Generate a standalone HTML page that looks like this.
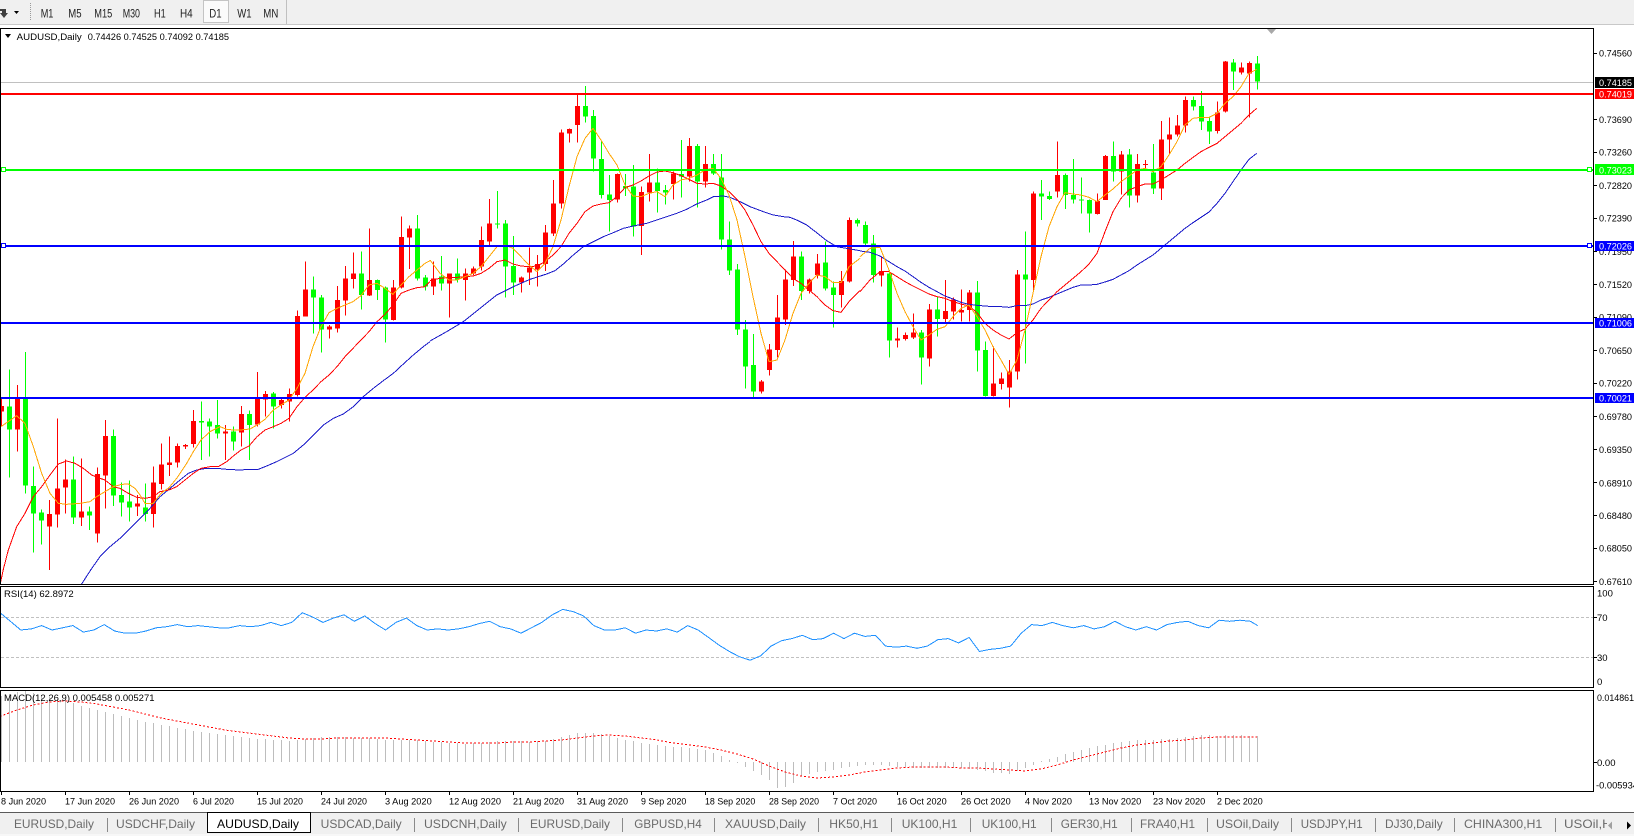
<!DOCTYPE html>
<html><head><meta charset="utf-8">
<style>
html,body{margin:0;padding:0;background:#fff;overflow:hidden;}
svg{display:block;font-family:"Liberation Sans",Arial,sans-serif;}
</style></head><body>
<svg width="1634" height="836" viewBox="0 0 1634 836" xmlns="http://www.w3.org/2000/svg">
<defs>
<clipPath id="mainclip"><rect x="1" y="29" width="1592" height="555"/></clipPath>
<clipPath id="rsiclip"><rect x="1" y="587" width="1592" height="100"/></clipPath>
<clipPath id="macdclip"><rect x="1" y="691" width="1592" height="100"/></clipPath>
</defs>
<rect width="1634" height="836" fill="#fff"/>

<!-- toolbar -->
<g shape-rendering="crispEdges">
<rect x="0" y="0" width="1634" height="24" fill="#f0f0f0"/>
<rect x="0" y="24" width="1634" height="1" fill="#c8c8c8"/>
<rect x="203.5" y="0.5" width="25" height="22" fill="#fbfbfb" stroke="#c4c4c4"/>
<rect x="286" y="0" width="1" height="24" fill="#c0c0c0"/>
<line x1="30.5" y1="3" x2="30.5" y2="21" stroke="#9a9a9a" stroke-dasharray="1 1"/>
</g>
<polygon points="0,9 6,9 6,13 8,13 4,18 0,13 2,13 2,11 0,11" fill="#404040"/>
<polygon points="14,11 19,11 16.5,14" fill="#000"/>
<g font-size="12" fill="#222">
<text x="40.7" y="17.3" textLength="12.7" lengthAdjust="spacingAndGlyphs">M1</text>
<text x="68.3" y="17.3" textLength="13.3" lengthAdjust="spacingAndGlyphs">M5</text>
<text x="94.3" y="17.3" textLength="18" lengthAdjust="spacingAndGlyphs">M15</text>
<text x="122.7" y="17.3" textLength="17.3" lengthAdjust="spacingAndGlyphs">M30</text>
<text x="154" y="17.3" textLength="11.7" lengthAdjust="spacingAndGlyphs">H1</text>
<text x="180" y="17.3" textLength="12.7" lengthAdjust="spacingAndGlyphs">H4</text>
<text x="209.3" y="17.3" textLength="12.3" lengthAdjust="spacingAndGlyphs">D1</text>
<text x="237.3" y="17.3" textLength="14.3" lengthAdjust="spacingAndGlyphs">W1</text>
<text x="263.3" y="17.3" textLength="15" lengthAdjust="spacingAndGlyphs">MN</text>
</g>

<!-- panel borders -->
<g fill="none" stroke="#000" stroke-width="1" shape-rendering="crispEdges">
<rect x="0.5" y="28.5" width="1593" height="556"/>
<rect x="0.5" y="586.5" width="1593" height="101"/>
<rect x="0.5" y="690.5" width="1593" height="101"/>
</g>

<!-- main chart content -->
<g clip-path="url(#mainclip)">
<rect x="1" y="82" width="1592" height="1" fill="#c0c0c0" shape-rendering="crispEdges"/>
<g shape-rendering="crispEdges">
<g transform="translate(0,60) scale(1,0.3333333)">
<path fill="#ff0000" d="M1 1015h1V1100h-1zM-1 1038h5V1055h-5zM17 975h1V1175h-1zM15 1017h5V1108h-5zM49 1320h1V1530h-1zM47 1362h5V1400h-5zM57 1075h1V1402h-1zM55 1285h5V1363h-5zM65 1198h1V1360h-1zM63 1258h5V1283h-5zM81 1195h1V1398h-1zM79 1355h5V1372h-5zM97 1222h1V1447h-1zM95 1242h5V1420h-5zM105 1080h1V1345h-1zM103 1128h5V1247h-5zM137 1305h1V1368h-1zM135 1330h5V1340h-5zM153 1220h1V1402h-1zM151 1267h5V1362h-5zM161 1150h1V1288h-1zM159 1213h5V1272h-5zM169 1130h1V1248h-1zM167 1207h5V1215h-5zM177 1150h1V1222h-1zM175 1158h5V1208h-5zM185 1152h1V1167h-1zM183 1155h5V1160h-5zM193 1050h1V1162h-1zM191 1083h5V1152h-5zM225 1095h1V1200h-1zM223 1115h5V1120h-5zM241 1038h1V1160h-1zM239 1062h5V1118h-5zM257 936h1V1100h-1zM255 1015h5V1093h-5zM265 993h1V1070h-1zM263 1002h5V1018h-5zM281 1015h1V1045h-1zM279 1020h5V1035h-5zM289 985h1V1085h-1zM287 1002h5V1025h-5zM297 752h1V1010h-1zM295 768h5V1005h-5zM305 605h1V770h-1zM303 688h5V770h-5zM329 795h1V835h-1zM327 800h5V808h-5zM337 678h1V818h-1zM335 720h5V805h-5zM345 618h1V767h-1zM343 655h5V722h-5zM353 578h1V685h-1zM351 640h5V657h-5zM369 505h1V708h-1zM367 660h5V707h-5zM393 660h1V782h-1zM391 682h5V780h-5zM401 470h1V685h-1zM399 531h5V683h-5zM409 497h1V627h-1zM407 505h5V533h-5zM433 605h1V705h-1zM431 655h5V680h-5zM449 640h1V773h-1zM447 640h5V670h-5zM465 625h1V722h-1zM463 640h5V660h-5zM473 620h1V645h-1zM471 625h5V640h-5zM481 500h1V632h-1zM479 540h5V620h-5zM489 417h1V555h-1zM487 490h5V545h-5zM521 650h1V698h-1zM519 653h5V668h-5zM529 562h1V675h-1zM527 623h5V638h-5zM537 585h1V680h-1zM535 612h5V628h-5zM545 495h1V633h-1zM543 517h5V612h-5zM553 360h1V528h-1zM551 430h5V520h-5zM561 208h1V445h-1zM559 218h5V430h-5zM569 205h1V248h-1zM567 207h5V220h-5zM577 103h1V248h-1zM575 138h5V195h-5zM617 340h1V428h-1zM615 342h5V418h-5zM641 380h1V585h-1zM639 396h5V498h-5zM649 282h1V425h-1zM647 368h5V398h-5zM673 335h1V418h-1zM671 341h5V372h-5zM689 234h1V365h-1zM687 258h5V350h-5zM705 258h1V383h-1zM703 312h5V365h-5zM761 960h1V1000h-1zM759 965h5V995h-5zM769 852h1V947h-1zM767 868h5V930h-5zM777 705h1V893h-1zM775 773h5V870h-5zM785 628h1V795h-1zM783 658h5V778h-5zM793 543h1V678h-1zM791 590h5V660h-5zM809 655h1V700h-1zM807 658h5V693h-5zM817 582h1V655h-1zM815 610h5V645h-5zM841 633h1V742h-1zM839 663h5V705h-5zM849 472h1V668h-1zM847 480h5V665h-5z"/>
<path fill="#00ff00" d="M9 928h1V1252h-1zM7 1040h5V1108h-5zM25 876h1V1300h-1zM23 1017h5V1277h-5zM33 1220h1V1477h-1zM31 1278h5V1360h-5zM41 1348h1V1453h-1zM39 1358h5V1382h-5zM73 1190h1V1392h-1zM71 1258h5V1372h-5zM89 1340h1V1410h-1zM87 1355h5V1367h-5zM113 1108h1V1338h-1zM111 1128h5V1307h-5zM121 1268h1V1370h-1zM119 1305h5V1328h-5zM129 1262h1V1385h-1zM127 1325h5V1342h-5zM145 1270h1V1385h-1zM143 1342h5V1362h-5zM201 1025h1V1200h-1zM199 1083h5V1088h-5zM209 1075h1V1190h-1zM207 1085h5V1100h-5zM217 1020h1V1135h-1zM215 1095h5V1120h-5zM233 1100h1V1172h-1zM231 1115h5V1145h-5zM249 1052h1V1200h-1zM247 1062h5V1095h-5zM273 996h1V1105h-1zM271 1000h5V1040h-5zM313 650h1V820h-1zM311 688h5V713h-5zM321 705h1V878h-1zM319 712h5V808h-5zM361 575h1V748h-1zM359 640h5V705h-5zM377 658h1V720h-1zM375 660h5V690h-5zM385 680h1V848h-1zM383 682h5V778h-5zM417 465h1V662h-1zM415 505h5V655h-5zM425 645h1V692h-1zM423 652h5V680h-5zM441 588h1V692h-1zM439 650h5V670h-5zM457 595h1V668h-1zM455 640h5V658h-5zM497 393h1V505h-1zM495 490h5V493h-5zM505 480h1V713h-1zM503 490h5V620h-5zM513 528h1V705h-1zM511 618h5V668h-5zM585 78h1V188h-1zM583 138h5V170h-5zM593 150h1V335h-1zM591 168h5V296h-5zM601 245h1V415h-1zM599 297h5V405h-5zM609 345h1V515h-1zM607 403h5V420h-5zM625 342h1V408h-1zM623 378h5V385h-5zM633 315h1V530h-1zM631 380h5V500h-5zM657 325h1V458h-1zM655 368h5V393h-5zM665 375h1V433h-1zM663 390h5V398h-5zM681 240h1V412h-1zM679 342h5V350h-5zM697 252h1V443h-1zM695 258h5V365h-5zM713 282h1V345h-1zM711 312h5V340h-5zM721 282h1V568h-1zM719 352h5V538h-5zM729 484h1V645h-1zM727 538h5V632h-5zM737 612h1V825h-1zM735 628h5V808h-5zM745 780h1V985h-1zM743 808h5V920h-5zM753 822h1V1012h-1zM751 915h5V995h-5zM801 575h1V720h-1zM799 590h5V693h-5zM825 545h1V692h-1zM823 608h5V685h-5zM833 665h1V802h-1zM831 682h5V705h-5zM857 475h1V500h-1zM855 480h5V490h-5z"/>
</g>
<g transform="translate(0,40) scale(1,0.3333333)">
<path fill="#ff0000" d="M881 650h1V740h-1zM879 693h5V707h-5zM897 862h1V922h-1zM895 895h5V902h-5zM905 878h1V902h-1zM903 885h5V897h-5zM913 820h1V897h-1zM911 877h5V893h-5zM929 792h1V980h-1zM927 808h5V955h-5zM945 720h1V848h-1zM943 813h5V837h-5zM953 773h1V838h-1zM951 778h5V815h-5zM961 748h1V845h-1zM959 810h5V818h-5zM969 750h1V845h-1zM967 757h5V810h-5zM993 920h1V1070h-1zM991 1030h5V1068h-5zM1001 998h1V1048h-1zM999 1015h5V1032h-5zM1009 960h1V1103h-1zM1007 995h5V1043h-5zM1017 690h1V1018h-1zM1015 703h5V995h-5zM1033 455h1V752h-1zM1031 460h5V720h-5zM1057 305h1V473h-1zM1055 405h5V455h-5zM1097 460h1V524h-1zM1095 483h5V522h-5zM1105 345h1V480h-1zM1103 348h5V480h-5zM1121 333h1V463h-1zM1119 343h5V395h-5zM1137 342h1V488h-1zM1135 372h5V467h-5zM1145 360h1V385h-1zM1143 372h5V375h-5zM1161 243h1V480h-1zM1159 298h5V446h-5zM1169 233h1V340h-1zM1167 283h5V298h-5zM1177 225h1V290h-1zM1175 256h5V283h-5zM1185 170h1V278h-1zM1183 180h5V256h-5zM1217 185h1V281h-1zM1215 217h5V273h-5zM1225 63h1V218h-1zM1223 65h5V215h-5zM1241 68h1V103h-1zM1239 82h5V98h-5zM1249 65h1V233h-1zM1247 69h5V100h-5z"/>
<path fill="#00ff00" d="M865 545h1V615h-1zM863 555h5V610h-5zM873 585h1V728h-1zM871 610h5V705h-5zM889 690h1V952h-1zM887 700h5V902h-5zM921 870h1V1033h-1zM919 877h5V953h-5zM937 770h1V890h-1zM935 808h5V837h-5zM977 723h1V995h-1zM975 757h5V932h-5zM985 905h1V1070h-1zM983 930h5V1068h-5zM1025 575h1V970h-1zM1023 703h5V718h-5zM1041 420h1V540h-1zM1039 460h5V470h-5zM1049 455h1V480h-1zM1047 468h5V477h-5zM1065 400h1V507h-1zM1063 405h5V465h-5zM1073 357h1V490h-1zM1071 465h5V478h-5zM1081 412h1V520h-1zM1079 478h5V482h-5zM1089 478h1V578h-1zM1087 480h5V520h-5zM1113 305h1V425h-1zM1111 348h5V395h-5zM1129 327h1V503h-1zM1127 343h5V467h-5zM1153 312h1V462h-1zM1151 397h5V445h-5zM1193 170h1V212h-1zM1191 180h5V200h-5zM1201 153h1V270h-1zM1199 198h5V245h-5zM1209 233h1V312h-1zM1207 243h5V275h-5zM1233 57h1V150h-1zM1231 67h5V95h-5zM1257 48h1V148h-1zM1255 70h5V125h-5z"/>
</g>
</g>

<!-- moving averages -->
<g fill="none" stroke-width="1" shape-rendering="crispEdges">
<g transform="translate(0,60) scale(0.3333333)">
<polyline vector-effect="non-scaling-stroke" stroke="#1818c8" points="243,1575 272,1530 300,1490 330,1460 360,1435 390,1405 420,1375 450,1345 480,1310 510,1285 540,1260 565,1240 590,1230 620,1225 650,1225 680,1228 720,1230 750,1228 775,1228 800,1218 830,1205 860,1190 880,1180 910,1155 940,1125 970,1095 1000,1075 1030,1062 1060,1040 1090,1010 1120,985 1150,962 1180,940 1210,912 1240,885 1270,860 1290,845"/>
<polyline vector-effect="non-scaling-stroke" stroke="#ff0000" points="0,1575 10,1528 25,1470 50,1400 75,1360 100,1310 125,1280 150,1245 175,1212 200,1203 225,1210 250,1225 275,1245 300,1255 315,1260 340,1280 360,1285 385,1300 410,1312 435,1315 460,1310 480,1295 507,1290 530,1280 555,1260 580,1240 603,1225 630,1220 655,1220 680,1205 700,1188 723,1170 747,1158 771,1130 795,1110 820,1100 843,1090 867,1075 891,1040 915,1012 939,990 963,965 987,945 1011,920 1035,890 1059,865 1083,840 1107,815 1131,785 1155,763 1179,735 1203,700 1227,690 1251,683 1275,680 1290,665"/>
<polyline vector-effect="non-scaling-stroke" stroke="#ffa500" points="0,1102 50,1067 75,1090 100,1160 125,1240 150,1300 175,1330 200,1333 240,1330 270,1325 290,1310 315,1295 340,1280 365,1273 385,1272 405,1285 420,1305 435,1330 460,1330 483,1300 507,1283 530,1255 560,1210 580,1175 603,1140 630,1115 660,1100 680,1108 700,1110 720,1110 750,1107 771,1095 795,1078 820,1050 843,1035 867,1020 891,985 915,940 939,860 963,800 987,758 1011,745 1035,735 1059,725 1083,707 1107,675 1131,670 1155,685 1179,703 1203,675 1227,650 1251,630 1275,610 1290,602"/>
</g>
<g transform="translate(430,60) scale(0.3333333)">
<polyline vector-effect="non-scaling-stroke" stroke="#1818c8" points="0,843 50,815 100,785 150,745 200,705 250,680 300,658 350,642 375,632 400,612 430,585 460,560 490,545 520,530 550,518 580,505 610,498 650,490 680,480 710,470 740,460 770,448 800,432 830,420 850,410 880,408 900,412 930,425 960,440 1000,455 1030,465 1060,470 1080,472 1100,480 1130,495 1160,518 1190,542 1220,560 1250,565 1290,572"/>
<polyline vector-effect="non-scaling-stroke" stroke="#ff0000" points="0,662 30,655 57,652 81,652 105,650 129,648 153,640 177,625 201,605 225,600 249,612 273,618 297,620 321,618 345,605 369,585 393,560 417,520 441,490 465,455 489,438 513,432 537,428 561,410 585,383 609,375 633,363 657,348 681,336 705,333 729,338 753,347 777,358 801,370 825,372 849,370 873,378 897,395 921,418 945,450 969,495 993,545 1017,580 1041,605 1065,630 1089,655 1113,670 1137,690 1161,710 1185,735 1209,752 1233,757 1257,725 1290,692"/>
<polyline vector-effect="non-scaling-stroke" stroke="#ffa500" points="0,600 30,640 57,660 81,660 105,650 129,640 153,620 177,590 201,560 225,555 249,565 273,590 297,615 321,635 345,610 369,560 393,480 417,380 441,290 465,235 489,205 513,240 537,280 561,315 585,375 609,408 633,410 657,400 681,395 705,410 729,375 753,360 777,355 801,345 825,330 849,325 873,355 897,405 921,480 945,590 969,710 993,820 1017,905 1041,900 1065,840 1089,760 1113,700 1137,670 1161,645 1185,650 1209,668 1233,668 1257,620 1290,595"/>
</g>
<g transform="translate(860,40) scale(0.3333333)">
<polyline vector-effect="non-scaling-stroke" stroke="#1818c8" points="0,633 30,637 60,648 87,665 111,680 135,693 159,710 183,727 207,742 231,755 255,768 279,777 303,787 327,793 351,796 375,798 399,800 423,800 447,802 471,797 495,797 519,792 543,780 567,772 591,762 615,752 639,742 663,735 687,735 711,733 735,726 759,718 783,705 807,692 831,675 855,660 879,645 903,625 927,605 951,585 975,565 999,548 1023,532 1047,516 1071,490 1095,460 1119,425 1143,390 1167,358 1190,340"/>
<polyline vector-effect="non-scaling-stroke" stroke="#ff0000" points="0,755 30,720 60,695 87,695 111,710 135,725 159,738 183,750 207,762 231,770 255,775 279,785 303,792 327,798 351,818 375,850 399,870 423,885 447,897 471,878 495,867 519,840 543,805 567,780 591,755 615,735 639,715 663,695 687,672 711,640 735,575 759,515 783,475 807,450 831,440 855,432 879,432 903,420 927,405 951,390 975,370 999,352 1023,335 1047,322 1071,310 1095,290 1119,270 1143,250 1167,225 1190,205"/>
<polyline vector-effect="non-scaling-stroke" stroke="#ffa500" points="0,650 30,625 60,622 87,690 111,760 135,815 159,860 183,900 207,885 231,868 255,860 279,830 303,805 327,795 351,830 375,870 399,920 423,960 447,1003 471,960 495,870 519,760 543,650 567,560 591,500 615,458 639,462 663,465 687,472 711,485 735,465 759,447 783,425 807,408 831,390 855,385 879,395 903,380 927,345 951,305 975,255 999,235 1023,232 1047,232 1071,220 1095,190 1119,170 1143,140 1167,100 1190,88"/>
</g>
</g>

<!-- horizontal lines -->
<g shape-rendering="crispEdges">
<rect x="1" y="93" width="1592" height="2" fill="#ff0000"/>
<rect x="1" y="169" width="1592" height="2" fill="#00ff00"/>
<rect x="1" y="245" width="1592" height="2" fill="#0000ff"/>
<rect x="1" y="322" width="1592" height="2" fill="#0000ff"/>
<rect x="1" y="397" width="1592" height="2" fill="#0000ff"/>
<rect x="1.5" y="167.5" width="4" height="4" fill="#fff" stroke="#00ff00"/>
<rect x="1587.5" y="167.5" width="4" height="4" fill="#fff" stroke="#00ff00"/>
<rect x="1.5" y="243.5" width="4" height="4" fill="#fff" stroke="#0000ff"/>
<rect x="1587.5" y="243.5" width="4" height="4" fill="#fff" stroke="#0000ff"/>
</g>
<polygon points="1267,29 1276,29 1271.5,34" fill="#a8a8a8"/>
</g>
<polygon points="5,34 11,34 8,38" fill="#000"/>
<text x="16.7" y="40" font-size="9.5" fill="#000" textLength="65" lengthAdjust="spacingAndGlyphs">AUDUSD,Daily</text>
<text x="87.7" y="40" font-size="9.5" fill="#000" textLength="141.3" lengthAdjust="spacingAndGlyphs">0.74426 0.74525 0.74092 0.74185</text>

<!-- price axis -->
<g font-size="9.5" fill="#000">
<text x="1599" y="56.7" textLength="33" lengthAdjust="spacingAndGlyphs">0.74560</text>
<text x="1599" y="122.9" textLength="33" lengthAdjust="spacingAndGlyphs">0.73690</text>
<text x="1599" y="155.6" textLength="33" lengthAdjust="spacingAndGlyphs">0.73260</text>
<text x="1599" y="189" textLength="33" lengthAdjust="spacingAndGlyphs">0.72820</text>
<text x="1599" y="221.7" textLength="33" lengthAdjust="spacingAndGlyphs">0.72390</text>
<text x="1599" y="255.1" textLength="33" lengthAdjust="spacingAndGlyphs">0.71950</text>
<text x="1599" y="287.8" textLength="33" lengthAdjust="spacingAndGlyphs">0.71520</text>
<text x="1599" y="320.5" textLength="33" lengthAdjust="spacingAndGlyphs">0.71090</text>
<text x="1599" y="354" textLength="33" lengthAdjust="spacingAndGlyphs">0.70650</text>
<text x="1599" y="386.7" textLength="33" lengthAdjust="spacingAndGlyphs">0.70220</text>
<text x="1599" y="420.2" textLength="33" lengthAdjust="spacingAndGlyphs">0.69780</text>
<text x="1599" y="452.9" textLength="33" lengthAdjust="spacingAndGlyphs">0.69350</text>
<text x="1599" y="486.3" textLength="33" lengthAdjust="spacingAndGlyphs">0.68910</text>
<text x="1599" y="519" textLength="33" lengthAdjust="spacingAndGlyphs">0.68480</text>
<text x="1599" y="551.7" textLength="33" lengthAdjust="spacingAndGlyphs">0.68050</text>
<text x="1599" y="585.1" textLength="33" lengthAdjust="spacingAndGlyphs">0.67610</text>
</g>
<g fill="#000" shape-rendering="crispEdges">
<rect x="1594" y="53" width="3" height="1"/><rect x="1594" y="119" width="3" height="1"/>
<rect x="1594" y="152" width="3" height="1"/><rect x="1594" y="185" width="3" height="1"/>
<rect x="1594" y="218" width="3" height="1"/><rect x="1594" y="251" width="3" height="1"/>
<rect x="1594" y="284" width="3" height="1"/><rect x="1594" y="317" width="3" height="1"/>
<rect x="1594" y="350" width="3" height="1"/><rect x="1594" y="383" width="3" height="1"/>
<rect x="1594" y="416" width="3" height="1"/><rect x="1594" y="449" width="3" height="1"/>
<rect x="1594" y="482" width="3" height="1"/><rect x="1594" y="515" width="3" height="1"/>
<rect x="1594" y="548" width="3" height="1"/><rect x="1594" y="581" width="3" height="1"/>
</g>
<!-- price tags -->
<g shape-rendering="crispEdges">
<rect x="1595" y="77" width="39" height="11" fill="#000"/>
<rect x="1595" y="89" width="39" height="10" fill="#ff0000"/>
<rect x="1595" y="164" width="39" height="11" fill="#00ff00"/>
<rect x="1595" y="241" width="39" height="10" fill="#0000ff"/>
<rect x="1595" y="318" width="39" height="10" fill="#0000ff"/>
<rect x="1595" y="393" width="39" height="10" fill="#0000ff"/>
</g>
<g font-size="9.5" fill="#fff">
<text x="1599" y="86" textLength="33" lengthAdjust="spacingAndGlyphs">0.74185</text>
<text x="1599" y="97.5" textLength="33" lengthAdjust="spacingAndGlyphs">0.74019</text>
<text x="1599" y="173.4" textLength="33" lengthAdjust="spacingAndGlyphs">0.73023</text>
<text x="1599" y="249.5" textLength="33" lengthAdjust="spacingAndGlyphs">0.72026</text>
<text x="1599" y="326.5" textLength="33" lengthAdjust="spacingAndGlyphs">0.71006</text>
<text x="1599" y="401.5" textLength="33" lengthAdjust="spacingAndGlyphs">0.70021</text>
</g>

<!-- RSI panel -->
<g shape-rendering="crispEdges">
<line x1="1" y1="617.5" x2="1593" y2="617.5" stroke="#c0c0c0" stroke-dasharray="3 2"/>
<line x1="1" y1="657.5" x2="1593" y2="657.5" stroke="#c0c0c0" stroke-dasharray="3 2"/>
<rect x="1594" y="617" width="3" height="1" fill="#000"/>
<rect x="1594" y="657" width="3" height="1" fill="#000"/>
</g>
<g clip-path="url(#rsiclip)">
<polyline fill="none" stroke="#1e90ff" stroke-width="1" shape-rendering="crispEdges" points="0,612.7 10.4,621.3 20.8,630 31.3,628.9 41.7,625.6 52.1,630 62.5,627.8 72.9,625.6 83.4,632.1 93.8,630 104.2,624.6 114.6,631 125,633.2 135.5,633.2 145.9,631 156.3,627.8 166.7,626.7 177.1,624.6 187.6,626.7 198,625.6 208.4,626.7 218.8,627.8 229.2,627.8 239.7,625.6 250.1,626.7 260.5,625.6 270.9,622.4 281.3,625.6 291.8,622.4 302.2,612.7 312.6,617 323,622.4 333.4,618.1 343.9,614.8 354.3,621.3 364.7,615.9 375.1,623.5 385.5,630 396,622.4 406.4,618.1 416.8,625.6 427.2,630 437.6,628.9 448.1,630 458.5,628.9 468.9,626.7 479.3,623.5 489.7,621.3 500.2,626.7 510.6,628.9 521,633.2 531.4,627.8 541.8,622.4 552.3,614.8 562.7,609.4 573.1,611.6 583.5,615.9 593.9,625.6 604.4,630 614.8,630 625.2,627.8 635.6,633.2 646,630 656.5,631 666.9,628.9 677.3,632.1 687.7,625.6 698.1,630 708.6,637.5 719,645.1 729.4,651.5 739.8,656.9 750.2,660.2 760.7,655.8 771.1,646.1 781.5,640.7 791.9,638.6 802.3,635.3 812.8,639.7 823.2,638.6 833.6,633.2 844,638.6 854.4,633.2 864.9,636.4 875.3,635.3 885.7,646.1 896.1,647.2 906.5,646.1 917,648.3 927.4,646.1 937.8,639.7 948.2,638.6 958.6,642.9 969.1,637.5 979.5,651.5 989.9,649.4 1000.3,648.3 1010.7,646.1 1021.2,633.2 1031.6,624.6 1042,625.6 1052.4,622.4 1062.8,625.6 1073.3,627.8 1083.7,625.6 1094.1,628.9 1104.5,626.7 1114.9,621.3 1125.4,626.7 1135.8,630 1146.2,626.7 1156.6,630 1167,624.6 1177.5,622.4 1187.9,621.3 1198.3,625.6 1208.7,627.8 1219.1,620.2 1229.6,621.3 1240,620.2 1250.4,621.3 1257.7,625.6"/>
</g>
<text x="4" y="597" font-size="9.5" fill="#000">RSI(14) 62.8972</text>
<g font-size="9.5" fill="#000">
<text x="1597" y="596.5">100</text>
<text x="1597" y="620.8">70</text>
<text x="1597" y="661.2">30</text>
<text x="1597" y="685.2">0</text>
</g>

<!-- MACD panel -->
<g clip-path="url(#macdclip)" shape-rendering="crispEdges">
<path fill="none" stroke="#bdbdbd" stroke-width="1" d="M1.5 762V696M9.5 762V694M17.5 762V692M25.5 762V691M33.5 762V693M41.5 762V695M49.5 762V697M57.5 762V699M65.5 762V701M73.5 762V703M81.5 762V706M89.5 762V708M97.5 762V710M105.5 762V712M113.5 762V714M121.5 762V716M129.5 762V718M137.5 762V720M145.5 762V722M153.5 762V723M161.5 762V725M169.5 762V726M177.5 762V728M185.5 762V729M193.5 762V731M201.5 762V732M209.5 762V733M217.5 762V734M225.5 762V735M233.5 762V736M241.5 762V737M249.5 762V738M257.5 762V739M265.5 762V739M273.5 762V740M281.5 762V740M289.5 762V741M297.5 762V740M305.5 762V739M313.5 762V738M321.5 762V737M329.5 762V737M337.5 762V737M345.5 762V737M353.5 762V738M361.5 762V738M369.5 762V738M377.5 762V739M385.5 762V740M393.5 762V740M401.5 762V740M409.5 762V740M417.5 762V740M425.5 762V741M433.5 762V742M441.5 762V742M449.5 762V743M457.5 762V743M465.5 762V744M473.5 762V743M481.5 762V743M489.5 762V742M497.5 762V741M505.5 762V741M513.5 762V741M521.5 762V741M529.5 762V742M537.5 762V741M545.5 762V741M553.5 762V739M561.5 762V737M569.5 762V735M577.5 762V733M585.5 762V733M593.5 762V733M601.5 762V734M609.5 762V736M617.5 762V738M625.5 762V740M633.5 762V741M641.5 762V743M649.5 762V744M657.5 762V745M665.5 762V746M673.5 762V747M681.5 762V747M689.5 762V748M697.5 762V749M705.5 762V750M713.5 762V753M721.5 762V756M729.5 762V760M737.5 762V763M745.5 762V767M753.5 762V771M761.5 762V775M769.5 762V780M777.5 762V788M785.5 762V787M793.5 762V783M801.5 762V776M809.5 762V774M817.5 762V772M825.5 762V771M833.5 762V770M841.5 762V768M849.5 762V767M857.5 762V766M865.5 762V765M873.5 762V765M881.5 762V765M889.5 762V766M897.5 762V767M905.5 762V767M913.5 762V768M921.5 762V768M929.5 762V768M937.5 762V768M945.5 762V768M953.5 762V768M961.5 762V768M969.5 762V769M977.5 762V770M985.5 762V771M993.5 762V773M1001.5 762V773M1009.5 762V774M1017.5 762V771M1025.5 762V768M1033.5 762V765M1041.5 762V761M1049.5 762V759M1057.5 762V757M1065.5 762V754M1073.5 762V752M1081.5 762V750M1089.5 762V748M1097.5 762V746M1105.5 762V745M1113.5 762V743M1121.5 762V742M1129.5 762V741M1137.5 762V740M1145.5 762V740M1153.5 762V740M1161.5 762V739M1169.5 762V739M1177.5 762V738M1185.5 762V737M1193.5 762V736M1201.5 762V735M1209.5 762V735M1217.5 762V736M1225.5 762V735M1233.5 762V735M1241.5 762V735M1249.5 762V736M1257.5 762V736"/>
<polyline fill="none" stroke="#ff0000" stroke-width="1" stroke-dasharray="2 2" points="0,717 1,716 17,710 33,705 49,702 65,701 81,702 97,704 113,707 129,710 145,714 161,718 177,721 193,724 209,727 225,730 241,732 257,734 273,736 289,738 305,739 321,739 337,738 353,738 369,738 385,738 401,739 417,740 433,741 449,742 465,743 481,743 497,743 513,742 529,742 545,741 561,740 577,738 593,736 609,735 625,736 641,738 657,740 673,743 689,745 705,747 721,750 737,754 753,759 769,766 785,772 801,776 817,778 833,777 849,775 865,772 881,770 897,768 913,767 929,767 945,767 961,768 977,768 993,769 1009,770 1025,771 1041,769 1057,765 1073,760 1089,756 1105,752 1121,748 1137,745 1153,743 1169,741 1185,740 1201,738 1217,737 1233,737 1249,737 1257,737"/>
</g>
<text x="4" y="701" font-size="9.5" fill="#000">MACD(12,26,9) 0.005458 0.005271</text>
<g font-size="9.5" fill="#000">
<text x="1597" y="701" textLength="37" lengthAdjust="spacingAndGlyphs">0.014861</text>
<text x="1597" y="766.2">0.00</text>
<text x="1596" y="788.4" textLength="42" lengthAdjust="spacingAndGlyphs">-0.005934</text>
</g>
<rect x="1594" y="762" width="3" height="1" fill="#000" shape-rendering="crispEdges"/>

<!-- time axis -->
<g fill="#000" shape-rendering="crispEdges">
<rect x="1" y="792" width="1" height="3"/><rect x="65" y="792" width="1" height="3"/>
<rect x="129" y="792" width="1" height="3"/><rect x="193" y="792" width="1" height="3"/>
<rect x="257" y="792" width="1" height="3"/><rect x="321" y="792" width="1" height="3"/>
<rect x="385" y="792" width="1" height="3"/><rect x="449" y="792" width="1" height="3"/>
<rect x="513" y="792" width="1" height="3"/><rect x="577" y="792" width="1" height="3"/>
<rect x="641" y="792" width="1" height="3"/><rect x="705" y="792" width="1" height="3"/>
<rect x="769" y="792" width="1" height="3"/><rect x="833" y="792" width="1" height="3"/>
<rect x="897" y="792" width="1" height="3"/><rect x="961" y="792" width="1" height="3"/>
<rect x="1025" y="792" width="1" height="3"/><rect x="1089" y="792" width="1" height="3"/>
<rect x="1153" y="792" width="1" height="3"/><rect x="1217" y="792" width="1" height="3"/>
</g>
<g font-size="9.5" fill="#000">
<text x="1" y="804.3" textLength="45" lengthAdjust="spacingAndGlyphs">8 Jun 2020</text>
<text x="65" y="804.3" textLength="50" lengthAdjust="spacingAndGlyphs">17 Jun 2020</text>
<text x="129" y="804.3" textLength="50" lengthAdjust="spacingAndGlyphs">26 Jun 2020</text>
<text x="193" y="804.3" textLength="41" lengthAdjust="spacingAndGlyphs">6 Jul 2020</text>
<text x="257" y="804.3" textLength="46" lengthAdjust="spacingAndGlyphs">15 Jul 2020</text>
<text x="321" y="804.3" textLength="46" lengthAdjust="spacingAndGlyphs">24 Jul 2020</text>
<text x="385" y="804.3" textLength="46.7" lengthAdjust="spacingAndGlyphs">3 Aug 2020</text>
<text x="449" y="804.3" textLength="52" lengthAdjust="spacingAndGlyphs">12 Aug 2020</text>
<text x="513" y="804.3" textLength="51" lengthAdjust="spacingAndGlyphs">21 Aug 2020</text>
<text x="577" y="804.3" textLength="51" lengthAdjust="spacingAndGlyphs">31 Aug 2020</text>
<text x="641" y="804.3" textLength="45.3" lengthAdjust="spacingAndGlyphs">9 Sep 2020</text>
<text x="705" y="804.3" textLength="50.3" lengthAdjust="spacingAndGlyphs">18 Sep 2020</text>
<text x="769" y="804.3" textLength="50" lengthAdjust="spacingAndGlyphs">28 Sep 2020</text>
<text x="833" y="804.3" textLength="44" lengthAdjust="spacingAndGlyphs">7 Oct 2020</text>
<text x="897" y="804.3" textLength="49.7" lengthAdjust="spacingAndGlyphs">16 Oct 2020</text>
<text x="961" y="804.3" textLength="49.7" lengthAdjust="spacingAndGlyphs">26 Oct 2020</text>
<text x="1025" y="804.3" textLength="47" lengthAdjust="spacingAndGlyphs">4 Nov 2020</text>
<text x="1089" y="804.3" textLength="52.3" lengthAdjust="spacingAndGlyphs">13 Nov 2020</text>
<text x="1153" y="804.3" textLength="52.3" lengthAdjust="spacingAndGlyphs">23 Nov 2020</text>
<text x="1217" y="804.3" textLength="45.7" lengthAdjust="spacingAndGlyphs">2 Dec 2020</text>
</g>

<!-- tab bar -->
<g shape-rendering="crispEdges">
<rect x="0" y="812" width="1634" height="24" fill="#f0f0f0"/>
<rect x="0" y="812" width="1634" height="1" fill="#5a5a5a"/>
<rect x="0" y="834" width="1634" height="2" fill="#f7f7f7"/>
<rect x="207.5" y="812.5" width="103" height="20" fill="#fff" stroke="#000"/>
<g fill="#8a8a8a">
<rect x="107" y="818" width="1" height="14"/><rect x="414" y="818" width="1" height="14"/>
<rect x="518" y="818" width="1" height="14"/><rect x="622" y="818" width="1" height="14"/>
<rect x="714" y="818" width="1" height="14"/><rect x="818" y="818" width="1" height="14"/>
<rect x="891" y="818" width="1" height="14"/><rect x="970" y="818" width="1" height="14"/>
<rect x="1051" y="818" width="1" height="14"/><rect x="1131" y="818" width="1" height="14"/>
<rect x="1207" y="818" width="1" height="14"/><rect x="1291" y="818" width="1" height="14"/>
<rect x="1375" y="818" width="1" height="14"/><rect x="1454" y="818" width="1" height="14"/>
<rect x="1555" y="818" width="1" height="14"/>
</g>
</g>
<g font-size="12" fill="#6a6a6a">
<text x="14" y="828" textLength="80" lengthAdjust="spacingAndGlyphs">EURUSD,Daily</text>
<text x="116" y="828" textLength="79" lengthAdjust="spacingAndGlyphs">USDCHF,Daily</text>
<text x="217" y="828" textLength="82" lengthAdjust="spacingAndGlyphs" fill="#000">AUDUSD,Daily</text>
<text x="320.7" y="828" textLength="81" lengthAdjust="spacingAndGlyphs">USDCAD,Daily</text>
<text x="424" y="828" textLength="82.7" lengthAdjust="spacingAndGlyphs">USDCNH,Daily</text>
<text x="530" y="828" textLength="80" lengthAdjust="spacingAndGlyphs">EURUSD,Daily</text>
<text x="634.3" y="828" textLength="67.4" lengthAdjust="spacingAndGlyphs">GBPUSD,H4</text>
<text x="725" y="828" textLength="81" lengthAdjust="spacingAndGlyphs">XAUUSD,Daily</text>
<text x="829.3" y="828" textLength="49" lengthAdjust="spacingAndGlyphs">HK50,H1</text>
<text x="901.7" y="828" textLength="55.6" lengthAdjust="spacingAndGlyphs">UK100,H1</text>
<text x="981.7" y="828" textLength="55" lengthAdjust="spacingAndGlyphs">UK100,H1</text>
<text x="1060.7" y="828" textLength="57" lengthAdjust="spacingAndGlyphs">GER30,H1</text>
<text x="1140" y="828" textLength="55" lengthAdjust="spacingAndGlyphs">FRA40,H1</text>
<text x="1216" y="828" textLength="63" lengthAdjust="spacingAndGlyphs">USOil,Daily</text>
<text x="1300.7" y="828" textLength="62" lengthAdjust="spacingAndGlyphs">USDJPY,H1</text>
<text x="1385" y="828" textLength="57.7" lengthAdjust="spacingAndGlyphs">DJ30,Daily</text>
<text x="1464" y="828" textLength="78.3" lengthAdjust="spacingAndGlyphs">CHINA300,H1</text>
<text x="1564" y="828" textLength="55" lengthAdjust="spacingAndGlyphs">USOil,H1</text>
</g>
<rect x="1607" y="813" width="27" height="21" fill="#f0f0f0"/>
<polygon points="1612,821.5 1612,829.5 1608,825.5" fill="#a0a0a0"/>
<polygon points="1627,821.5 1627,829.5 1631,825.5" fill="#000"/>
</svg>
</body></html>
